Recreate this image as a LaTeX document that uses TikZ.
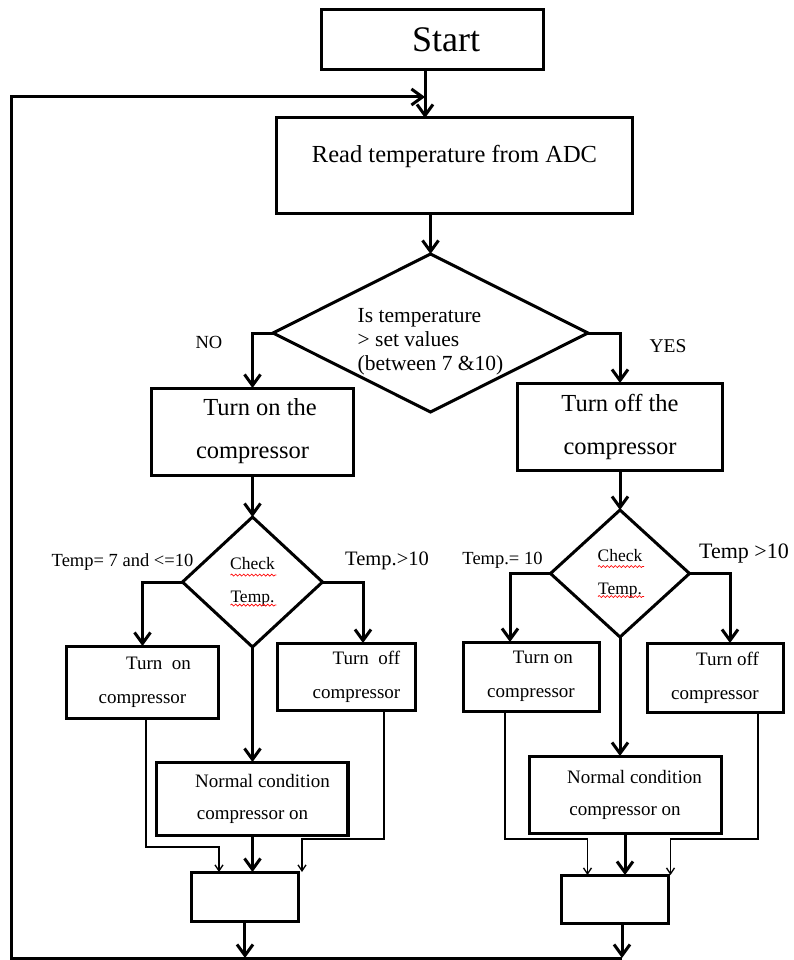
\documentclass[tikz,border=0pt]{standalone}
\usepackage{fontspec}
\setmainfont{Liberation Serif}
\usetikzlibrary{arrows.meta, positioning, shapes.geometric, decorations.pathmorphing}

\begin{document}
\begin{tikzpicture}[
  box/.style={rectangle, draw, line width=3pt, inner sep=0pt, outer sep=0pt, align=center,
    font=\fontsize{24.5}{43}\selectfont},
  small/.style={box, font=\fontsize{19}{34}\selectfont},
  decision/.style={diamond, draw, line width=3pt, inner sep=0pt, outer sep=0pt},
  edge/.style={-{Straight Barb[length=11pt, width=16pt]}, line width=3pt},
  thinedge/.style={-{Straight Barb[length=6pt, width=8pt]}, line width=1.3pt},
  lbl/.style={inner sep=0pt, font=\fontsize{18.5}{20}\selectfont},
  squiggle/.style={red, line width=0.7pt, decorate,
    decoration={snake, amplitude=1pt, segment length=4pt}}
]
\useasboundingbox (-432.5pt,-920pt) rectangle (360.5pt,40pt);

% main column
\node[box, minimum width=221pt, minimum height=60pt, font=\fontsize{36}{40}\selectfont] (start) {\hspace*{27pt}Start};
\node[box, minimum width=355pt, minimum height=95pt, text depth=23pt, below=48pt of start, xshift=22pt] (read) {Read temperature from ADC};
\node[decision, minimum width=315pt, minimum height=158pt, below=41pt of read, xshift=-24pt] (dec) {};
\node[align=left, inner sep=0pt, font=\fontsize{21.5}{24}\selectfont] (dectext) at ([yshift=-9pt]dec.center) {Is temperature\\> set values\\(between 7 \&10)};
\node[box, minimum width=201pt, minimum height=87pt, below=55pt of dec.west, xshift=-20.5pt] (on) {\hspace*{15pt}Turn on the\\compressor};
\node[box, minimum width=205pt, minimum height=87pt, below=50pt of dec.east, xshift=32pt] (off) {Turn off the\\compressor};

% left branch
\node[decision, minimum width=140pt, minimum height=130pt, align=center,
  font=\fontsize{17.5}{33}\selectfont, below=42pt of on] (chkL) {Check\\Temp.};
\node[small, minimum width=152pt, minimum height=72pt, below=64pt of chkL.west, xshift=-40pt] (onL) {\hspace*{32pt}Turn~ on\\compressor};
\node[small, minimum width=137pt, minimum height=67pt, below=61pt of chkL.east, xshift=24pt] (offL) {\hspace*{40pt}Turn~ off\\\hspace*{20pt}compressor};
\node[small, minimum width=191pt, minimum height=73pt, font=\fontsize{19}{32}\selectfont, below=115pt of chkL] (normL) {\hspace*{20pt}Normal condition\\compressor on};
\node[box, minimum width=107pt, minimum height=49pt, below=37pt of normL, xshift=-7.5pt] (endL) {};

% right branch
\node[decision, minimum width=139pt, minimum height=127pt, align=center,
  font=\fontsize{17.5}{33}\selectfont, below=40pt of off] (chkR) {Check\\Temp.};
\node[small, minimum width=136pt, minimum height=69pt, below=68.5pt of chkR.west, xshift=-19.5pt] (onR) {\hspace*{24pt}Turn on\\compressor};
\node[small, minimum width=136pt, minimum height=69pt, below=69.5pt of chkR.east, xshift=25.5pt] (offR) {\hspace*{25pt}Turn off\\compressor};
\node[small, minimum width=192pt, minimum height=77pt, font=\fontsize{19}{32}\selectfont, below=119pt of chkR, xshift=5pt] (normR) {\hspace*{19pt}Normal condition\\compressor on};
\node[box, minimum width=107pt, minimum height=48pt, below=42pt of normR, xshift=-10.5pt] (endR) {};

% labels
\node[lbl] (no) at ([shift={(-64pt,-9.5pt)}]dec.west) {NO};
\node[lbl, font=\fontsize{19.5}{20}\selectfont] (yes) at ([shift={(80pt,-13.5pt)}]dec.east) {YES};
\node[lbl] (tempL1) at ([shift={(-60pt,20pt)}]chkL.west) {Temp= 7 and <=10};
\node[lbl, font=\fontsize{20.5}{22}\selectfont] (tempL2) at ([shift={(64.5pt,21pt)}]chkL.east) {Temp.>10};
\node[lbl] (tempR1) at ([shift={(-48pt,13.5pt)}]chkR.west) {Temp.= 10};
\node[lbl, font=\fontsize{22}{24}\selectfont] (tempR2) at ([shift={(54.5pt,20pt)}]chkR.east) {Temp >10};

\coordinate (entry) at ([xshift=-7.5pt, yshift=-27pt]start.south);
\coordinate (loopx) at ([xshift=-55pt]onL.west);
\coordinate (loopy) at ([yshift=-37pt]endL.south);

% connectors
\draw[edge] ([xshift=-7.5pt]start.south) -- (entry |- read.north);
\draw[edge] (read.south -| dec.north) -- (dec.north);
\draw[edge] (dec.west) -| (on.north);
\draw[edge] (dec.east) -| (off.north);
\draw[edge] (on.south) -- (chkL.north);
\draw[edge] (off.south) -- (chkR.north);

\draw[edge] (chkL.west) -| (onL.north);
\draw[edge] (chkL.east) -| ([xshift=16.5pt]offL.north);
\draw[edge] (chkL.south) -- (normL.north);
\draw[edge] (normL.south) -- (normL.south |- endL.north);
\draw[thinedge] ([xshift=3.5pt]onL.south) |- ([xshift=-26pt, yshift=25pt]endL.north) -- ([xshift=-26pt]endL.north);
\draw[thinedge] ([xshift=37.5pt]offL.south) |- ([xshift=57pt, yshift=33pt]endL.north) -- ([xshift=57pt]endL.north);

\draw[edge] (chkR.west) -| ([xshift=-21pt]onR.north);
\draw[edge] (chkR.east) -| ([xshift=15pt]offR.north);
\draw[edge] (chkR.south) -- (chkR.south |- normR.north);
\draw[edge] (normR.south) -- (normR.south |- endR.north);
\draw[thinedge] ([xshift=-26pt]onR.south) |- ([xshift=-27pt, yshift=36pt]endR.north) -- ([xshift=-27pt]endR.north);
\draw[thinedge] ([xshift=43pt]offR.south) |- ([xshift=56pt, yshift=36pt]endR.north) -- ([xshift=56pt]endR.north);

% back to the top
\draw[edge] (endL.south) -- (endL.south |- loopy);
\draw[edge] ([xshift=7.5pt]endR.south) -- ([xshift=7.5pt]endR.south |- loopy);
\draw[edge] ([xshift=7.5pt]endR.south |- loopy) -- (loopx |- loopy) |- (entry);

% spell-check marks
\foreach \n in {chkL, chkR} {
  \draw[squiggle] ([shift={(-22pt,7pt)}]\n.center) -- ++(46pt,0);
  \draw[squiggle] ([shift={(-22pt,-23pt)}]\n.center) -- ++(46pt,0);
}
\end{tikzpicture}
\end{document}
